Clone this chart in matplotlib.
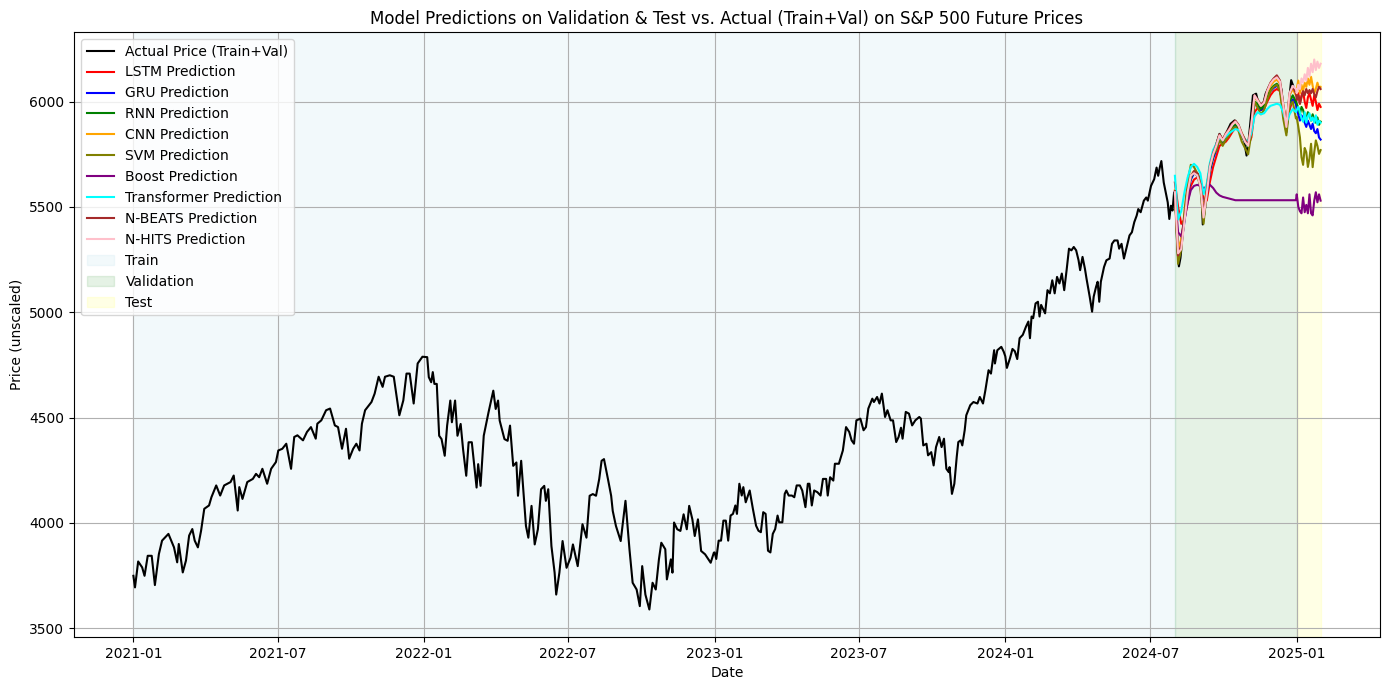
import matplotlib
matplotlib.use("Agg")
import matplotlib.pyplot as plt
import matplotlib.dates as mdates
import pandas as pd

# actual futures price (train + val)
actual_dates = [
    "2021-01-01", "2021-01-03", "2021-01-07", "2021-01-12", "2021-01-15", "2021-01-19", "2021-01-24", "2021-01-28",
    "2021-02-02", "2021-02-06", "2021-02-14", "2021-02-21", "2021-02-25", "2021-02-27", "2021-03-04", "2021-03-08",
    "2021-03-12", "2021-03-16", "2021-03-19", "2021-03-23", "2021-03-27", "2021-03-31", "2021-04-06", "2021-04-09",
    "2021-04-15", "2021-04-20", "2021-04-25", "2021-05-03", "2021-05-07", "2021-05-12", "2021-05-14", "2021-05-18",
    "2021-05-24", "2021-05-31", "2021-06-04", "2021-06-08", "2021-06-12", "2021-06-18", "2021-06-23", "2021-06-29",
    "2021-07-02", "2021-07-07", "2021-07-12", "2021-07-14", "2021-07-18", "2021-07-22", "2021-07-26", "2021-08-02",
    "2021-08-07", "2021-08-12", "2021-08-18", "2021-08-20", "2021-08-25", "2021-08-31", "2021-09-05", "2021-09-11",
    "2021-09-15", "2021-09-20", "2021-09-25", "2021-09-29", "2021-10-04", "2021-10-08", "2021-10-12", "2021-10-15",
    "2021-10-19", "2021-10-27", "2021-10-31", "2021-11-05", "2021-11-10", "2021-11-13", "2021-11-19", "2021-11-24",
    "2021-11-27", "2021-12-01", "2021-12-06", "2021-12-10", "2021-12-14", "2021-12-19", "2021-12-24", "2021-12-30",
    "2022-01-05", "2022-01-07", "2022-01-10", "2022-01-12", "2022-01-14", "2022-01-17", "2022-01-20", "2022-01-23",
    "2022-01-27", "2022-01-30", "2022-02-03", "2022-02-05", "2022-02-09", "2022-02-12", "2022-02-16", "2022-02-19",
    "2022-02-23", "2022-02-26", "2022-03-02", "2022-03-06", "2022-03-08", "2022-03-10", "2022-03-13", "2022-03-17",
    "2022-03-23", "2022-03-29", "2022-04-01", "2022-04-04", "2022-04-06", "2022-04-12", "2022-04-16", "2022-04-19",
    "2022-04-23", "2022-04-27", "2022-04-29", "2022-05-03", "2022-05-09", "2022-05-12", "2022-05-16", "2022-05-20",
    "2022-05-24", "2022-05-28", "2022-06-01", "2022-06-03", "2022-06-06", "2022-06-10", "2022-06-14", "2022-06-16",
    "2022-06-20", "2022-06-24", "2022-06-29", "2022-07-04", "2022-07-07", "2022-07-13", "2022-07-15", "2022-07-19",
    "2022-07-24", "2022-07-28", "2022-08-01", "2022-08-05", "2022-08-09", "2022-08-12", "2022-08-15", "2022-08-20",
    "2022-08-24", "2022-08-26", "2022-08-30", "2022-09-05", "2022-09-11", "2022-09-16", "2022-09-20", "2022-09-25",
    "2022-09-29", "2022-10-02", "2022-10-06", "2022-10-11", "2022-10-15", "2022-10-19", "2022-10-23", "2022-10-26",
    "2022-10-31", "2022-11-02", "2022-11-07", "2022-11-09", "2022-11-11", "2022-11-15", "2022-11-19", "2022-11-23",
    "2022-11-27", "2022-11-30", "2022-12-04", "2022-12-07", "2022-12-11", "2022-12-15", "2022-12-20", "2022-12-27",
    "2022-12-31",
    "2023-01-01", "2023-01-03", "2023-01-06", "2023-01-09", "2023-01-12", "2023-01-15", "2023-01-18", "2023-01-21",
    "2023-01-24", "2023-01-27", "2023-01-29", "2023-02-01", "2023-02-04", "2023-02-06", "2023-02-09", "2023-02-14",
    "2023-02-18", "2023-02-22", "2023-02-25", "2023-02-28", "2023-03-03", "2023-03-06", "2023-03-09", "2023-03-12",
    "2023-03-15", "2023-03-18", "2023-03-21", "2023-03-23", "2023-03-27", "2023-03-30", "2023-04-01", "2023-04-04",
    "2023-04-08", "2023-04-11", "2023-04-14", "2023-04-18", "2023-04-21", "2023-04-25", "2023-04-28", "2023-04-30",
    "2023-05-03", "2023-05-06", "2023-05-10", "2023-05-14", "2023-05-17", "2023-05-21", "2023-05-23", "2023-05-26",
    "2023-05-30", "2023-06-01", "2023-06-06", "2023-06-11", "2023-06-15", "2023-06-19", "2023-06-22", "2023-06-25",
    "2023-06-28", "2023-07-03", "2023-07-07", "2023-07-10", "2023-07-13", "2023-07-18", "2023-07-20", "2023-07-24",
    "2023-07-27", "2023-07-30", "2023-08-03", "2023-08-06", "2023-08-10", "2023-08-13", "2023-08-17", "2023-08-20",
    "2023-08-23", "2023-08-25", "2023-08-29", "2023-09-02", "2023-09-06", "2023-09-10", "2023-09-15", "2023-09-17",
    "2023-09-20", "2023-09-24", "2023-09-26", "2023-09-30", "2023-10-03", "2023-10-06", "2023-10-10", "2023-10-13",
    "2023-10-16", "2023-10-19", "2023-10-22", "2023-10-23", "2023-10-26", "2023-10-29", "2023-11-01", "2023-11-03",
    "2023-11-06", "2023-11-08", "2023-11-11", "2023-11-13", "2023-11-18", "2023-11-22", "2023-11-27", "2023-11-30",
    "2023-12-04", "2023-12-07", "2023-12-11", "2023-12-14", "2023-12-18", "2023-12-19", "2023-12-22", "2023-12-27",
    "2023-12-30",
    "2024-01-01", "2024-01-03", "2024-01-07", "2024-01-10", "2024-01-13", "2024-01-16", "2024-01-19", "2024-01-23",
    "2024-01-27", "2024-01-30", "2024-02-01", "2024-02-03", "2024-02-05", "2024-02-08", "2024-02-11", "2024-02-13",
    "2024-02-15", "2024-02-20", "2024-02-23", "2024-02-26", "2024-02-29", "2024-03-03", "2024-03-06", "2024-03-09",
    "2024-03-12", "2024-03-15", "2024-03-18", "2024-03-21", "2024-03-24", "2024-03-27", "2024-03-30", "2024-04-02",
    "2024-04-04", "2024-04-07", "2024-04-10", "2024-04-12", "2024-04-16", "2024-04-19", "2024-04-21", "2024-04-24",
    "2024-04-26", "2024-04-28", "2024-04-30", "2024-05-04", "2024-05-07", "2024-05-11", "2024-05-14", "2024-05-17",
    "2024-05-21", "2024-05-23", "2024-05-26", "2024-05-29", "2024-06-01", "2024-06-05", "2024-06-08", "2024-06-11",
    "2024-06-14", "2024-06-16", "2024-06-19", "2024-06-23", "2024-06-26", "2024-06-28", "2024-07-02", "2024-07-06",
    "2024-07-09", "2024-07-11", "2024-07-13", "2024-07-15", "2024-07-18", "2024-07-21", "2024-07-23", "2024-07-25",
    "2024-07-27", "2024-07-29", "2024-07-31",
    "2024-08-02", "2024-08-04", "2024-08-06", "2024-08-08", "2024-08-10", "2024-08-13", "2024-08-17", "2024-08-21",
    "2024-08-26", "2024-08-30", "2024-09-03", "2024-09-05", "2024-09-08", "2024-09-11", "2024-09-15", "2024-09-20",
    "2024-09-26", "2024-09-30", "2024-10-04", "2024-10-10", "2024-10-15", "2024-10-19", "2024-10-23", "2024-10-27",
    "2024-10-30", "2024-11-02", "2024-11-07", "2024-11-11", "2024-11-15", "2024-11-19", "2024-11-23", "2024-11-27",
    "2024-12-02", "2024-12-06", "2024-12-10", "2024-12-13", "2024-12-16", "2024-12-19", "2024-12-22", "2024-12-25",
    "2024-12-28",
]

actual_price = [
    3749, 3694, 3817, 3789, 3749, 3844, 3844, 3705,
    3852, 3916, 3948, 3884, 3813, 3900, 3765, 3821,
    3940, 3971, 3916, 3884, 3963, 4067, 4083, 4122,
    4178, 4130, 4178, 4194, 4225, 4059, 4170, 4114,
    4194, 4209, 4233, 4217, 4257, 4186, 4257, 4289,
    4344, 4352, 4376, 4336, 4257, 4408, 4416, 4392,
    4432, 4455, 4400, 4471, 4487, 4535, 4543, 4463,
    4455, 4352, 4447, 4305, 4352, 4376, 4344, 4471,
    4535, 4574, 4614, 4694, 4646, 4694, 4701, 4694,
    4614, 4511, 4582, 4709, 4709, 4567, 4757, 4789,
    4787, 4692, 4668, 4716, 4660, 4660, 4414, 4398,
    4319, 4462, 4581, 4478, 4581, 4414, 4470, 4351,
    4224, 4383, 4383, 4240, 4168, 4279, 4176, 4414,
    4525, 4628, 4541, 4581, 4486, 4398, 4390, 4462,
    4271, 4287, 4129, 4295, 3986, 3930, 4081, 3898,
    3970, 4160, 4176, 4105, 4160, 3890, 3764, 3660,
    3764, 3914, 3787, 3835, 3898, 3795, 3859, 3994,
    3930, 4129, 4137, 4129, 4208, 4295, 4303, 4208,
    4129, 4057, 3986, 3914, 4105, 3875, 3716, 3684,
    3605, 3795, 3660, 3589, 3716, 3684, 3827, 3906,
    3875, 3732, 3827, 3764, 4002, 3970, 3962, 4041,
    3970, 4081, 4017, 3938, 4017, 3867, 3851, 3811,
    3859,
    3860, 3829, 3916, 3916, 4011, 4011, 3916, 4035,
    4043, 4083, 4043, 4186, 4130, 4170, 4098, 4154,
    4067, 3987, 3963, 3956, 4051, 4043, 3868, 3860,
    3948, 3971, 4035, 4003, 4003, 4138, 4154, 4130,
    4130, 4122, 4178, 4178, 4154, 4075, 4186, 4186,
    4083, 4154, 4146, 4130, 4209, 4209, 4130, 4217,
    4201, 4281, 4281, 4344, 4455, 4432, 4392, 4376,
    4487, 4495, 4440, 4455, 4543, 4590, 4574, 4598,
    4567, 4614, 4503, 4535, 4487, 4487, 4384, 4408,
    4452, 4400, 4527, 4519, 4463, 4487, 4503, 4495,
    4368, 4376, 4321, 4336, 4273, 4360, 4408, 4360,
    4400, 4257, 4241, 4265, 4138, 4186, 4313, 4384,
    4392, 4368, 4440, 4511, 4559, 4574, 4567, 4598,
    4567, 4630, 4725, 4709, 4820, 4757, 4820, 4836,
    4813,
    4791, 4736, 4783, 4826, 4815, 4778, 4877, 4893,
    4932, 4956, 4877, 4980, 4972, 5042, 5050, 4980,
    5035, 4995, 5105, 5090, 5152, 5090, 5168, 5137,
    5184, 5105, 5200, 5302, 5294, 5310, 5294, 5247,
    5200, 5263, 5207, 5160, 5074, 5003, 5074, 5121,
    5145, 5050, 5145, 5215, 5247, 5255, 5325, 5341,
    5341, 5302, 5325, 5255, 5302, 5365, 5380, 5428,
    5459, 5490, 5475, 5530, 5545, 5530, 5600, 5632,
    5687, 5648, 5687, 5718, 5616, 5561, 5522, 5443,
    5506, 5483, 5569,
    5529, 5306, 5218, 5258, 5338, 5449, 5584, 5648,
    5672, 5656, 5608, 5417, 5497, 5624, 5704, 5775,
    5847, 5815, 5847, 5895, 5911, 5887, 5847, 5815,
    5744, 5831, 6030, 6038, 5974, 5974, 6038, 6070,
    6102, 6118, 6102, 6054, 5927, 5855, 5990, 6102,
    6070,
]

# prediction dates: validation every 4 days, test every 2 days
val_dates = pd.date_range("2024-08-01", "2024-12-31", freq="4D")
test_dates = pd.date_range("2025-01-01", "2025-01-31", freq="2D")
pred_dates = val_dates.append(test_dates)

lstm_pred = [
    5616, 5500, 5420, 5440, 5520, 5600, 5630, 5640,
    5625, 5540, 5530, 5620, 5690, 5740, 5790, 5800,
    5810, 5830, 5855, 5875, 5870, 5845, 5815,
    5790, 5830, 5950, 5970, 5960, 5965, 6000, 6030,
    6050, 6060, 6050, 5980, 5900, 5960, 6010, 6000,
    6010, 6040, 5990, 6030, 6050, 6000, 5970, 6020,
    6040, 6010, 5980, 6030, 6000, 5960, 5990, 5975,
]
gru_pred = [
    5570, 5300, 5330, 5430, 5560, 5630, 5660, 5650,
    5610, 5500, 5560, 5670, 5730, 5770, 5820, 5810,
    5830, 5850, 5870, 5890, 5875, 5840, 5810,
    5790, 5860, 5990, 5990, 5960, 5975, 6020, 6050,
    6065, 6075, 6060, 5970, 5880, 5980, 6010, 5990,
    5960, 5940, 5910, 5935, 5920, 5900, 5880, 5910,
    5890, 5870, 5895, 5860, 5850, 5870, 5830, 5820,
]
rnn_pred = [
    5560, 5280, 5340, 5440, 5570, 5640, 5665, 5650,
    5600, 5470, 5570, 5680, 5740, 5780, 5830, 5810,
    5835, 5855, 5880, 5895, 5875, 5840, 5810,
    5785, 5870, 6000, 5990, 5965, 5980, 6030, 6060,
    6075, 6085, 6065, 5960, 5870, 6000, 6030, 6000,
    5990, 5970, 5940, 5975, 5960, 5930, 5915, 5950,
    5935, 5910, 5940, 5915, 5900, 5925, 5890, 5905,
]
cnn_pred = [
    5580, 5290, 5350, 5455, 5580, 5645, 5670, 5660,
    5615, 5480, 5590, 5695, 5750, 5790, 5840, 5820,
    5845, 5865, 5890, 5905, 5885, 5850, 5820,
    5800, 5880, 6020, 6005, 5980, 5995, 6045, 6075,
    6095, 6105, 6085, 5985, 5890, 6030, 6060, 6030,
    6060, 6100, 6040, 6080, 6050, 6090, 6070, 6110,
    6080, 6118, 6075, 6040, 6060, 6090, 6065, 6070,
]
svm_pred = [
    5560, 5230, 5300, 5480, 5620, 5700, 5690, 5660,
    5590, 5420, 5580, 5700, 5750, 5770, 5820, 5790,
    5820, 5840, 5870, 5880, 5860, 5810, 5780,
    5750, 5850, 6000, 5970, 5940, 5960, 6010, 6050,
    6070, 6080, 6050, 5920, 5840, 5980, 6000, 5920,
    5927, 5880, 5831, 5736, 5700, 5780, 5760, 5690,
    5730, 5800, 5689, 5760, 5816, 5790, 5752, 5770,
]
boost_pred = [
    5560, 5380, 5360, 5440, 5520, 5580, 5600, 5605,
    5600, 5590, 5595, 5605, 5590, 5568, 5555, 5548,
    5544, 5540, 5536, 5532, 5532, 5532, 5532,
    5532, 5532, 5532, 5532, 5532, 5532, 5532, 5532,
    5532, 5532, 5532, 5532, 5532, 5532, 5532, 5532,
    5560, 5500, 5480, 5470, 5545, 5475, 5510, 5470,
    5560, 5470, 5460, 5530, 5570, 5522, 5560, 5530,
]
transformer_pred = [
    5648, 5440, 5480, 5570, 5640, 5690, 5705, 5690,
    5660, 5560, 5610, 5710, 5770, 5800, 5830, 5820,
    5835, 5850, 5860, 5870, 5865, 5845, 5820,
    5810, 5850, 5930, 5950, 5940, 5945, 5965, 5980,
    5985, 5990, 5985, 5950, 5900, 5940, 5965, 5950,
    5960, 5975, 5950, 5920, 5905, 5950, 5900, 5930,
    5945, 5910, 5925, 5900, 5935, 5890, 5910, 5900,
]
nbeats_pred = [
    5575, 5270, 5320, 5440, 5575, 5645, 5670, 5660,
    5610, 5470, 5580, 5695, 5755, 5795, 5845, 5820,
    5850, 5870, 5895, 5910, 5890, 5850, 5820,
    5795, 5890, 6030, 6010, 5985, 6000, 6055, 6090,
    6110, 6125, 6100, 5990, 5890, 6040, 6070, 6040,
    6010, 6030, 5990, 6020, 6050, 6030, 6060, 6040,
    6055, 6040, 6060, 6035, 6020, 6050, 6070, 6060,
]
nhits_pred = [
    5570, 5280, 5300, 5430, 5570, 5650, 5660, 5650,
    5600, 5450, 5560, 5690, 5750, 5790, 5840, 5815,
    5845, 5865, 5890, 5905, 5885, 5845, 5810,
    5790, 5890, 6030, 6005, 5980, 5995, 6050, 6085,
    6105, 6115, 6095, 5985, 5880, 6040, 6075, 6060,
    6040, 6080, 6060, 6110, 6090, 6130, 6100, 6160,
    6120, 6180, 6140, 6200, 6150, 6190, 6160, 6180,
]

models = [
    ("LSTM", lstm_pred, "red"),
    ("GRU", gru_pred, "blue"),
    ("RNN", rnn_pred, "green"),
    ("CNN", cnn_pred, "orange"),
    ("SVM", svm_pred, "olive"),
    ("Boost", boost_pred, "purple"),
    ("Transformer", transformer_pred, "cyan"),
    ("N-BEATS", nbeats_pred, "brown"),
    ("N-HITS", nhits_pred, "pink"),
]

train_start = pd.Timestamp("2021-01-01")
val_start = pd.Timestamp("2024-08-01")
test_start = pd.Timestamp("2025-01-01")
test_end = pd.Timestamp("2025-01-31")


def main():
    dates = pd.to_datetime(actual_dates)

    fig, ax = plt.subplots(figsize=(13.89, 6.9), dpi=100)
    fig.subplots_adjust(left=0.0533, right=0.9935, top=0.9536, bottom=0.0768)

    ax.plot(dates, actual_price, color="black", label="Actual Price (Train+Val)")
    for name, values, color in models:
        ax.plot(pred_dates, values, color=color, label=f"{name} Prediction")

    ax.axvspan(train_start, val_start, color="lightblue", alpha=0.15, label="Train")
    ax.axvspan(val_start, test_start, color="green", alpha=0.1, label="Validation")
    ax.axvspan(test_start, test_end, color="yellow", alpha=0.1, label="Test")

    ax.xaxis.set_major_locator(mdates.MonthLocator(bymonth=[1, 7]))
    ax.xaxis.set_major_formatter(mdates.DateFormatter("%Y-%m"))

    ax.set_title("Model Predictions on Validation & Test vs. Actual (Train+Val) on S&P 500 Future Prices")
    ax.set_xlabel("Date")
    ax.set_ylabel("Price (unscaled)")
    ax.legend(loc="upper left")
    ax.grid(True)

    fig.savefig("out.png", dpi=100)
    plt.close(fig)


if __name__ == "__main__":
    main()
